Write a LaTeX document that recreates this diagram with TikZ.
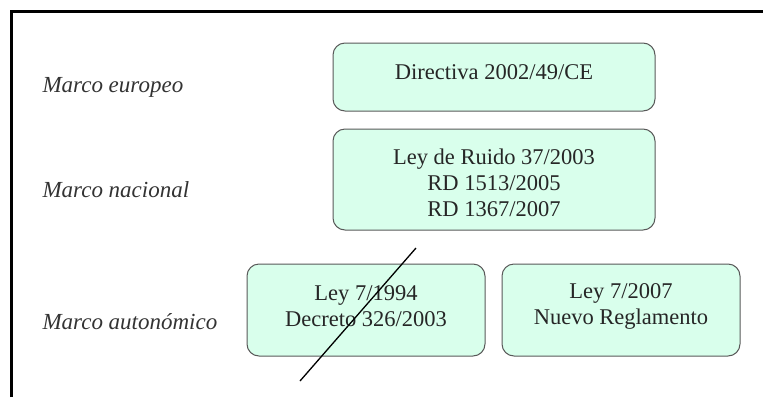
\documentclass[tikz,border=0pt]{standalone}
\usepackage{fontspec}
\setmainfont{Liberation Serif}
\begin{document}
\begin{tikzpicture}[x=1pt,y=-1pt,
  lawbox/.style={draw=black!65, line width=1pt, fill=boxfill, rounded corners=12pt},
  lawtext/.style={font=\fontsize{22.5}{26}\selectfont, align=center, text=black!85},
  framelbl/.style={font=\fontsize{23}{26}\selectfont\itshape, anchor=west, text=black!80}]
\definecolor{boxfill}{HTML}{D9FFEC}
\useasboundingbox (0,0) rectangle (763,397);
% frame lines
\draw[line width=3pt] (11,397) -- (11,11) -- (763,11);
% boxes
\draw[lawbox] (333,43) rectangle (655,111);
\node[lawtext] (eu) at (494,72) {Directiva 2002/49/CE};
\draw[lawbox] (333,129) rectangle (655,230);
\node[lawtext] (nac) at (494,183) {Ley de Ruido 37/2003\\RD 1513/2005\\RD 1367/2007};
\draw[lawbox] (247,264) rectangle (485,356);
\node[lawtext] (aut1) at (366,306) {Ley 7/1994\\Decreto 326/2003};
\draw[lawbox] (502,264) rectangle (740,356);
\node[lawtext] (aut2) at (621,306) {Ley 7/2007\\Nuevo Reglamento};
% cross out
\coordinate (c1) at (416,248);
\coordinate (c2) at (300,381);
\draw[line width=1.3pt] (c1) -- (c2);
% labels
\node[framelbl] (l1) at (39,87) {Marco europeo};
\node[framelbl] (l2) at (39,190) {Marco nacional};
\node[framelbl] (l3) at (39,322) {Marco autonómico};
\end{tikzpicture}
\end{document}
